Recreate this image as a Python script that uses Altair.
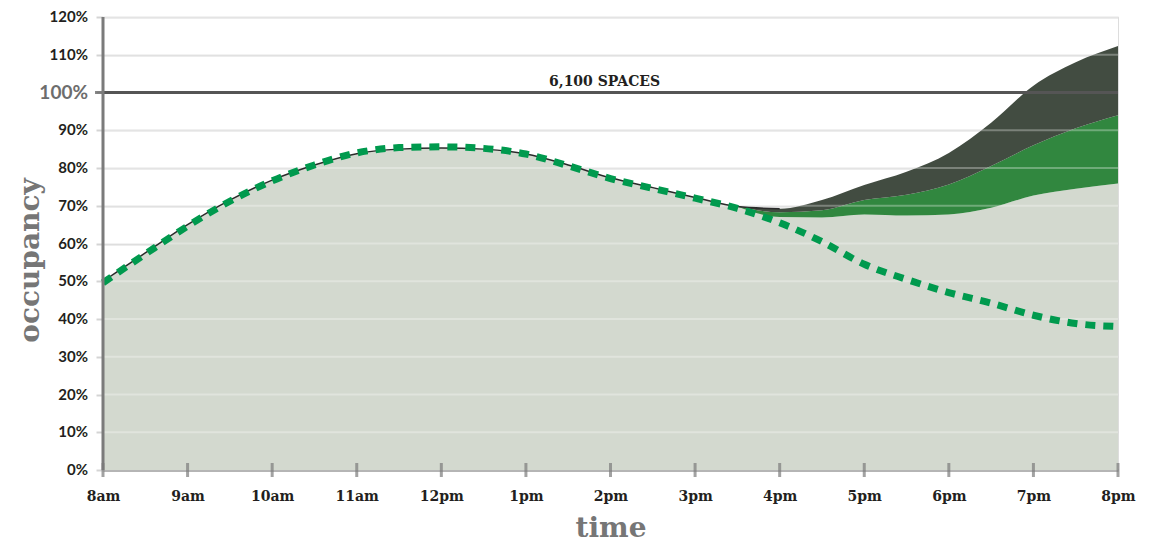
import altair as alt
import pandas as pd

# ---- data ----
hours = [8, 8.5, 9, 9.5, 10, 10.5, 11, 11.5, 12, 12.5, 13, 13.5, 14, 14.5,
         15, 15.5, 16, 16.5, 17, 17.5, 18, 18.5, 19, 19.5, 20]
base = [50, 57.5, 65, 71.5, 76.8, 80.8, 83.8, 85, 85.3, 85, 83.7, 80.8, 77.4, 74.8,
        72.2, 69.8, 67, 66.9, 67.7, 67.4, 67.7, 69.5, 72.7, 74.5, 75.9]
band_hours = [15.5, 16, 16.5, 17, 17.5, 18, 18.5, 19, 19.5, 20]
band_low = [69.8, 67, 66.9, 67.7, 67.4, 67.7, 69.5, 72.7, 74.5, 75.9]
band_mid = [69.8, 68.3, 68.8, 71.5, 72.9, 75.6, 80.5, 86, 90.5, 94]
band_top = [69.8, 69.2, 71.5, 75.5, 79, 84, 92, 101.8, 108, 112.3]
line_hours = [8, 8.5, 9, 9.5, 10, 10.5, 11, 11.5, 12, 12.5, 13, 13.5, 14, 14.5, 15, 15.5, 16]
line_vals = [50, 57.5, 65, 71.5, 76.8, 80.8, 83.8, 85, 85.3, 85, 83.7, 80.8, 77.4, 74.8, 72.2, 69.8, 69.2]
dashed = [49.6, 57.2, 64.6, 71.2, 76.6, 80.8, 84, 85.4, 85.6, 85.2, 83.7, 80.6, 77.2, 74.6,
          72, 69.3, 65.5, 60.5, 54.5, 50.5, 47, 44.2, 41, 38.8, 38]
tick_hours = list(range(8, 21))
tick_labels = ["8am", "9am", "10am", "11am", "12pm", "1pm", "2pm", "3pm",
               "4pm", "5pm", "6pm", "7pm", "8pm"]
y_ticks = [0, 10, 20, 30, 40, 50, 60, 70, 80, 90, 110, 120]
y_tick_labels = ["0%", "10%", "20%", "30%", "40%", "50%", "60%", "70%", "80%", "90%",
                 "110%", "120%"]
capacity = [100]
capacity_tick_label = ["100%"]
capacity_label = ["6,100 SPACES"]
capacity_label_hour = [13.93]
axis_start = [8]

main_df = pd.DataFrame({"hour": hours, "base": base, "dashed": dashed})
band_df = pd.DataFrame({"hour": band_hours, "low": band_low, "mid": band_mid, "top": band_top})
line_df = pd.DataFrame({"hour": line_hours, "v": line_vals})
tick_df = pd.DataFrame({"hour": tick_hours})
ylab_df = pd.DataFrame({"g": y_ticks, "label": y_tick_labels, "start": [axis_start[0]] * len(y_ticks)})
cap_df = pd.DataFrame({"v": capacity, "label": capacity_label, "hour": capacity_label_hour,
                       "tick": capacity_tick_label, "start": axis_start})

label_expr = "[" + ",".join("'%s'" % s for s in tick_labels) + "][datum.value - 8]"

x_scale = alt.Scale(domain=[8, 20], nice=False, zero=False)
y_scale = alt.Scale(domain=[0, 120], nice=False)

x_axis = alt.Axis(values=tick_hours, labelExpr=label_expr, ticks=False, grid=False,
                  domainColor="#b5b5b5", domainWidth=3, labelOverlap=False,
                  labelFont="DejaVu Serif", labelFontWeight="bold", labelFontSize=14,
                  labelColor="#231f20", labelPadding=19, labelFlush=False,
                  title="time", titleFont="DejaVu Serif", titleFontWeight="bold",
                  titleFontSize=28, titleColor="#767676", titlePadding=11)
y_axis = alt.Axis(values=list(range(0, 121, 10)), labels=False, grid=True,
                  gridColor="#d9d9d9", gridWidth=2, domain=False,
                  tickSize=7, tickColor="#d4d4d4", tickWidth=2,
                  title="occupancy", titleFont="DejaVu Serif", titleFontWeight="bold",
                  titleFontSize=28, titleColor="#767676", titleAngle=-90,
                  titleX=-73, titleY=243, titleAlign="center", titleBaseline="middle")


def X(field):
    return alt.X(field, scale=x_scale, axis=x_axis)


def Y(field):
    return alt.Y(field, scale=y_scale, axis=y_axis)


base_area = alt.Chart(main_df).mark_area(interpolate="monotone", color="#d3d9cf").encode(
    x=X("hour:Q"), y=Y("base:Q"))
green_band = alt.Chart(band_df).mark_area(interpolate="monotone", color="#31873f").encode(
    x=X("hour:Q"), y=Y("low:Q"), y2="mid:Q")
dark_band = alt.Chart(band_df).mark_area(interpolate="monotone", color="#424c41").encode(
    x=X("hour:Q"), y=Y("mid:Q"), y2="top:Q")
grid_overlay = alt.Chart(ylab_df).transform_filter("datum.g > 0").mark_rule(
    color="white", opacity=0.3, strokeWidth=2).encode(y=Y("g:Q"))
ylabels = alt.Chart(ylab_df).mark_text(font="Lato", fontWeight="bold", fontSize=15,
                                       color="#231f20", align="right", baseline="middle",
                                       dx=-15).encode(
    x=X("start:Q"), y=Y("g:Q"), text="label:N")
cap_line = alt.Chart(cap_df).mark_rule(color="#555555", strokeWidth=3).encode(
    y=Y("v:Q"), x=X("start:Q"), x2=alt.value(1015))
cap_tick = alt.Chart(cap_df).mark_tick(orient="horizontal", size=8, thickness=3,
                                       color="#555555", xOffset=-4).encode(
    y=Y("v:Q"), x=X("start:Q"))
cap_tick_text = alt.Chart(cap_df).mark_text(font="Lato", fontWeight="bold", fontSize=19,
                                             color="#6d6d6d", align="right", baseline="middle",
                                             dx=-15).encode(
    x=X("start:Q"), y=Y("v:Q"), text="tick:N")
cap_text = alt.Chart(cap_df).mark_text(font="DejaVu Serif", fontWeight="bold", fontSize=14,
                                        color="#231f20", dy=-7, baseline="alphabetic").encode(
    x=X("hour:Q"), y=Y("v:Q"), text="label:N")
solid = alt.Chart(line_df).mark_line(interpolate="monotone", color="#2b2b2b", strokeWidth=1.5).encode(
    x=X("hour:Q"), y=Y("v:Q"))
dash = alt.Chart(main_df).mark_line(interpolate="monotone", color="#009a4e", strokeWidth=7,
                                    strokeDash=[10, 8], strokeCap="butt").encode(
    x=X("hour:Q"), y=Y("dashed:Q"))
yaxis_line = alt.Chart(tick_df).transform_filter("datum.hour == 8").mark_rule(
    color="#7b7b7b", strokeWidth=3).encode(x=X("hour:Q"))
x_ticks = alt.Chart(tick_df).mark_tick(orient="vertical", size=14, thickness=3,
                                       color="#7b7b7b").encode(
    x=X("hour:Q"), y=alt.Y(datum=0, scale=y_scale, axis=y_axis))

chart = alt.layer(base_area, green_band, dark_band, grid_overlay, ylabels, cap_line, cap_tick,
                  cap_tick_text, cap_text, solid, dash, yaxis_line, x_ticks).properties(
    width=1015, height=453,
    autosize=alt.AutoSizeParams(type="none"),
    padding={"left": 95, "top": 9, "right": 24, "bottom": 78},
).configure_view(stroke=None).configure(background="white")

chart.save("out.html", embed_options={"renderer": "svg", "actions": False})
